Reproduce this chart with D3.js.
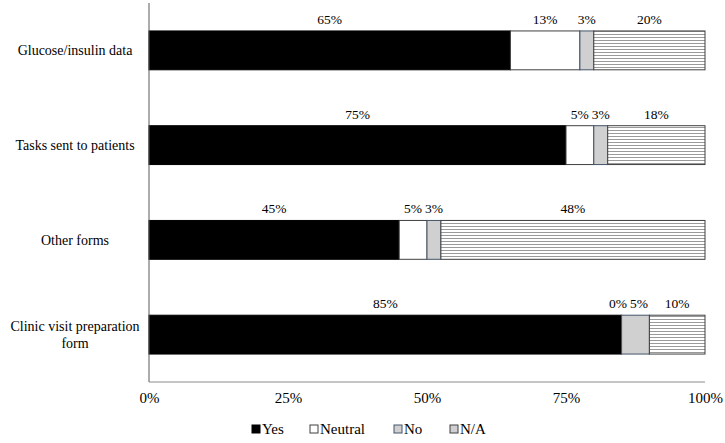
<!DOCTYPE html>
<html>
<head>
<meta charset="utf-8">
<script src="https://cdn.jsdelivr.net/npm/d3@7"></script>
<style>
  body { margin: 0; background: #fff; }
  text { font-family: "Liberation Serif", "Times New Roman", serif; fill: #000; }
</style>
</head>
<body>
<script>
// data: share of respondents per category (out of 40, so halves appear)
var categories = ["Glucose/insulin data", "Tasks sent to patients", "Other forms", "Clinic visit preparation form"];
var seriesNames = ["Yes", "Neutral", "No", "N/A"];
var yesValues = [65, 75, 45, 85];
var neutralValues = [12.5, 5, 5, 0];
var noValues = [2.5, 2.5, 2.5, 5];
var naValues = [20, 17.5, 47.5, 10];
var tickValues = [0, 25, 50, 75, 100];

var width = 725, height = 443;
var margin = { top: 3, right: 20, bottom: 61, left: 149 };
var plotW = width - margin.left - margin.right,
    plotH = height - margin.top - margin.bottom;

var svg = d3.select("body").append("svg")
    .attr("width", width)
    .attr("height", height);

// hatch pattern for N/A
var defs = svg.append("defs");
var pat = defs.append("pattern")
    .attr("id", "hatch")
    .attr("patternUnits", "userSpaceOnUse")
    .attr("width", 8).attr("height", 3);
pat.append("rect").attr("width", 8).attr("height", 3).attr("fill", "#fff");
pat.append("line")
    .attr("x1", 0).attr("x2", 8).attr("y1", 1.5).attr("y2", 1.5)
    .attr("stroke", "#9a9a9a").attr("stroke-width", 1);

var g = svg.append("g")
    .attr("transform", "translate(" + margin.left + "," + margin.top + ")");

var xScale = d3.scaleLinear().domain([0, 100]).range([0, plotW]);
var yScale = d3.scaleBand()
    .domain(categories)
    .range([0, plotH])
    .paddingInner(0.59)
    .paddingOuter(0.295);

var fills = { "Yes": "#000", "Neutral": "#fff", "No": "#d0d0d0", "N/A": "url(#hatch)" };
var strokes = { "Yes": "#000", "Neutral": "#404040", "No": "#44546a", "N/A": "#404040" };

var rows = categories.map(function(c, i) {
  return { cat: c, "Yes": yesValues[i], "Neutral": neutralValues[i], "No": noValues[i], "N/A": naValues[i] };
});
var stacked = d3.stack().keys(seriesNames)(rows);

// bars
var layers = g.selectAll("g.layer")
    .data(stacked)
    .enter().append("g")
    .attr("class", "layer");

layers.selectAll("rect")
    .data(function(s) { return s.map(function(d) { d.key = s.key; return d; }); })
    .enter().append("rect")
    .attr("x", function(d) { return xScale(d[0]); })
    .attr("y", function(d) { return yScale(d.data.cat); })
    .attr("width", function(d) { return xScale(d[1]) - xScale(d[0]); })
    .attr("height", yScale.bandwidth())
    .attr("fill", function(d) { return fills[d.key]; })
    .attr("stroke", function(d) { return (d[1] - d[0]) > 0 ? strokes[d.key] : "none"; })
    .attr("stroke-width", 1);

// labels above each segment
var labels = g.append("g").attr("class", "labels");
categories.forEach(function(c, ci) {
  var items = stacked.map(function(s) {
    var d = s[ci];
    return { cat: c, x: xScale((d[0] + d[1]) / 2), txt: Math.round(d[1] - d[0]) + "%" };
  });
  var texts = labels.selectAll("text.r" + ci)
      .data(items)
      .enter().append("text")
      .attr("class", "r" + ci)
      .attr("text-anchor", "middle")
      .attr("y", function(d) { return yScale(d.cat) - 7; })
      .style("font-size", "13.5px")
      .text(function(d) { return d.txt; });
  texts.each(function(d) { d.w = this.getComputedTextLength(); });
  // push neighbouring labels apart if they collide
  for (var k = 1; k < items.length; k++) {
    var a = items[k - 1], b = items[k];
    var need = (a.w + b.w) / 2 + 3;
    var gap = b.x - a.x;
    if (gap < need) { a.x -= (need - gap) / 2; b.x += (need - gap) / 2; }
  }
  texts.attr("x", function(d) { return d.x; });
});

// axes
g.append("line")
    .attr("x1", 0).attr("x2", 0).attr("y1", 0).attr("y2", plotH)
    .attr("stroke", "#595959").attr("stroke-width", 1);
g.append("line")
    .attr("x1", 0).attr("x2", plotW).attr("y1", plotH).attr("y2", plotH)
    .attr("stroke", "#8c8c8c").attr("stroke-width", 1);

var xAxis = d3.axisBottom(xScale)
    .tickValues(tickValues)
    .tickSize(0)
    .tickPadding(10)
    .tickFormat(function(d) { return d + "%"; });
var xg = g.append("g")
    .attr("transform", "translate(0," + plotH + ")")
    .call(xAxis);
xg.select(".domain").remove();
xg.selectAll("text")
    .style("font-size", "15px")
    .style("font-family", "Liberation Serif");

// category labels, centred and wrapped
var catLines = {
  "Glucose/insulin data": ["Glucose/insulin data"],
  "Tasks sent to patients": ["Tasks sent to patients"],
  "Other forms": ["Other forms"],
  "Clinic visit preparation form": ["Clinic visit preparation", "form"]
};
var catG = g.selectAll("text.cat")
    .data(categories)
    .enter().append("text")
    .attr("class", "cat")
    .attr("text-anchor", "middle")
    .style("font-size", "14px")
    .attr("transform", function(d) {
      return "translate(" + (-margin.left + 75) + "," + (yScale(d) + yScale.bandwidth() / 2) + ")";
    });
catG.each(function(d) {
  var lines = catLines[d];
  var t = d3.select(this);
  lines.forEach(function(l, i) {
    t.append("tspan")
      .attr("x", 0)
      .attr("y", (i - (lines.length - 1) / 2) * 17 + 5)
      .text(l);
  });
});

// legend
var legendX = [252, 310, 394, 450];
var legend = svg.append("g").attr("transform", "translate(0,434)");
var li = legend.selectAll("g")
    .data(seriesNames)
    .enter().append("g")
    .attr("transform", function(d, i) { return "translate(" + legendX[i] + ",0)"; });
li.append("rect")
    .attr("x", 0).attr("y", -9)
    .attr("width", 8).attr("height", 8)
    .attr("fill", function(d) { return d === "N/A" ? "#d0d0d0" : fills[d]; })
    .attr("stroke", function(d) { return strokes[d]; })
    .attr("stroke-width", 1);
li.append("text")
    .attr("x", 10).attr("y", 0)
    .style("font-size", "15px")
    .text(function(d) { return d; });
</script>
</body>
</html>
